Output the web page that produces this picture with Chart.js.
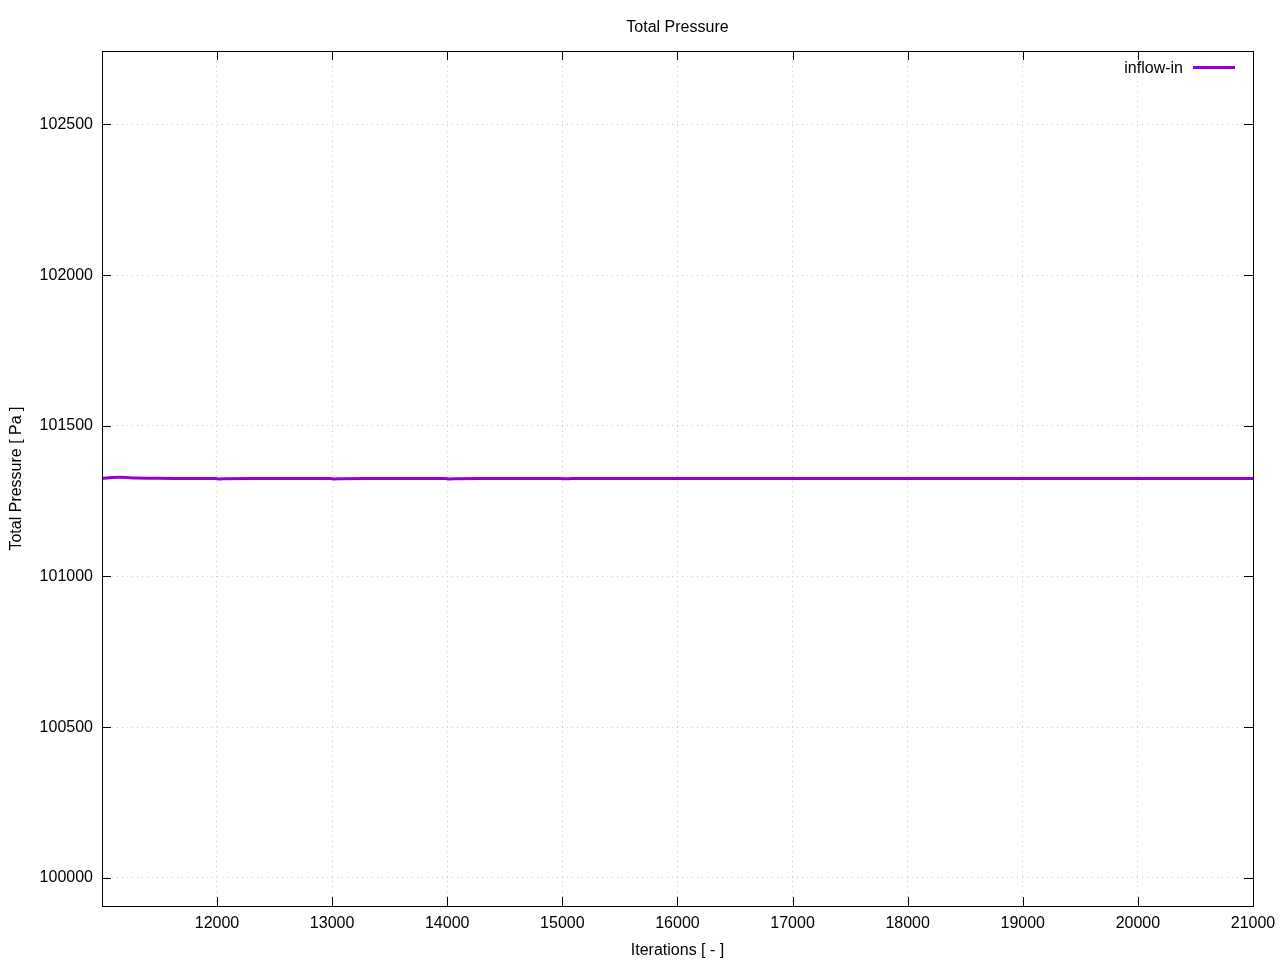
<!DOCTYPE html>
<html>
<head>
<meta charset="utf-8">
<script src="https://cdn.jsdelivr.net/npm/chart.js@4.4.0/dist/chart.umd.min.js"></script>
<style>
    html, body { margin: 0; padding: 0; background: #fff; }
    #wrap { width: 1280px; height: 960px; }
</style>
</head>
<body>
<div id="wrap"><canvas id="pressureChart" width="1280" height="960"></canvas></div>
<script>
const chartTitle = "Total Pressure";
const seriesName = "inflow-in";
const xTitle = "Iterations [ - ]";
const yTitle = "Total Pressure [ Pa ]";

const iterations = [11001, 11060, 11150, 11300, 11500, 11750, 11980, 12020, 12080, 12500,
    12980, 13020, 13080, 13500, 13980, 14020, 14080, 14500, 14980, 15020, 15080, 15500,
    16000, 16500, 17000, 17500, 18000, 18500, 19000, 19500, 20000, 20500, 21000];
const pressure = [101325.5, 101327.5, 101329, 101327, 101325.5, 101325, 101325, 101323.5, 101324.5, 101325,
    101325, 101323.5, 101324.5, 101325, 101325, 101323.8, 101324.6, 101325, 101325, 101324, 101324.7, 101325,
    101325, 101325, 101325, 101325, 101325, 101325, 101325, 101325, 101325, 101325, 101325];

const xTicks = [12000, 13000, 14000, 15000, 16000, 17000, 18000, 19000, 20000, 21000];
const yTicks = [100000, 100500, 101000, 101500, 102000, 102500];

const xMin = 11001, xMax = 21000;
const yMin = 99906.5, yMax = 102743.6;

const FONT = "'Liberation Sans', Arial, sans-serif";
const LINE_COLOR = "#9400d3";

// frame, inward ticks, title and legend like gnuplot
const gnuplotDecor = {
    id: "gnuplotDecor",
    afterDraw(chart) {
        const ctx = chart.ctx;
        const a = chart.chartArea;
        const xs = chart.scales.x;
        const ys = chart.scales.y;
        ctx.save();
        ctx.strokeStyle = "#000";
        ctx.lineWidth = 1;
        ctx.beginPath();
        xTicks.forEach(v => {
            const px = Math.round(xs.getPixelForValue(v)) + 0.5;
            ctx.moveTo(px, a.bottom); ctx.lineTo(px, a.bottom - 9);
            ctx.moveTo(px, a.top); ctx.lineTo(px, a.top + 9);
        });
        yTicks.forEach(v => {
            const py = Math.round(ys.getPixelForValue(v)) + 0.5;
            ctx.moveTo(a.left, py); ctx.lineTo(a.left + 9, py);
            ctx.moveTo(a.right, py); ctx.lineTo(a.right - 9, py);
        });
        ctx.stroke();
        ctx.strokeRect(Math.round(a.left) + 0.5, Math.round(a.top) + 0.5,
            Math.round(a.right - a.left), Math.round(a.bottom - a.top));

        ctx.fillStyle = "#000";
        ctx.font = "16px " + FONT;
        ctx.textAlign = "center";
        ctx.textBaseline = "middle";
        ctx.fillText(chartTitle, (a.left + a.right) / 2, 28);

        ctx.textAlign = "right";
        ctx.fillText(seriesName, a.right - 70, 69);
        ctx.strokeStyle = LINE_COLOR;
        ctx.lineWidth = 3;
        ctx.beginPath();
        ctx.moveTo(a.right - 60, 67.5);
        ctx.lineTo(a.right - 18, 67.5);
        ctx.stroke();
        ctx.restore();
    }
};

const ctx = document.getElementById("pressureChart").getContext("2d");

new Chart(ctx, {
    type: "line",
    data: {
        datasets: [{
            label: seriesName,
            data: iterations.map((it, i) => ({ x: it, y: pressure[i] })),
            borderColor: LINE_COLOR,
            borderWidth: 3,
            pointRadius: 0,
            tension: 0.3,
            fill: false
        }]
    },
    options: {
        responsive: false,
        animation: false,
        layout: { padding: { top: 51, right: 27, left: 7, bottom: 0 } },
        plugins: {
            legend: { display: false },
            title: { display: false },
            tooltip: { enabled: false }
        },
        scales: {
            x: {
                type: "linear",
                min: xMin,
                max: xMax,
                afterBuildTicks: s => { s.ticks = xTicks.map(v => ({ value: v })); },
                afterFit: s => { s.height = 54; s.paddingLeft = 0; s.paddingRight = 0; },
                border: { display: false, dash: [1, 4] },
                grid: {
                    color: "#c8c8c8",
                    lineWidth: 1,
                    drawTicks: false
                },
                ticks: {
                    color: "#000",
                    font: { family: FONT, size: 16 },
                    padding: 8,
                    maxRotation: 0,
                    callback: v => String(v)
                },
                title: {
                    display: true,
                    text: xTitle,
                    color: "#000",
                    font: { family: FONT, size: 16 },
                    padding: { top: 0, bottom: 0 }
                }
            },
            y: {
                type: "linear",
                min: yMin,
                max: yMax,
                afterBuildTicks: s => { s.ticks = yTicks.map(v => ({ value: v })); },
                afterFit: s => { s.width = 95; s.paddingTop = 0; s.paddingBottom = 0; },
                border: { display: false, dash: [1, 4] },
                grid: {
                    color: "#c8c8c8",
                    lineWidth: 1,
                    drawTicks: false
                },
                ticks: {
                    color: "#000",
                    font: { family: FONT, size: 16 },
                    padding: 9,
                    callback: v => String(v)
                },
                title: {
                    display: true,
                    text: yTitle,
                    color: "#000",
                    font: { family: FONT, size: 16 },
                    padding: { top: 0, bottom: 0 }
                }
            }
        }
    },
    plugins: [gnuplotDecor]
});
</script>
</body>
</html>
